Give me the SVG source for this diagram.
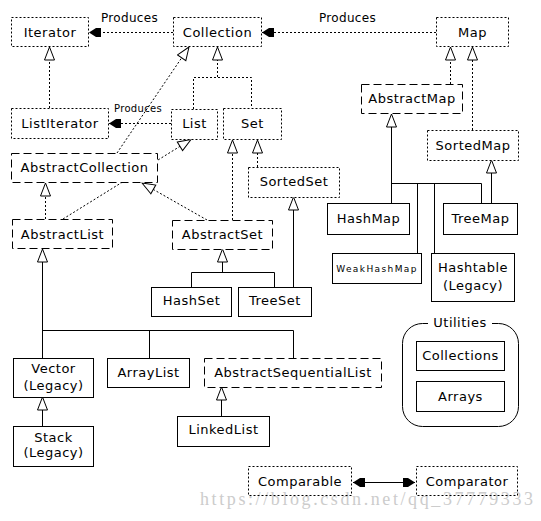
<svg xmlns="http://www.w3.org/2000/svg" width="541" height="521" viewBox="0 0 541 521">
<style>
.bg{fill:#ffffff}
.n rect{fill:#ffffff;stroke:#000;stroke-width:1}
.dot rect{stroke-dasharray:2,2}
.dash rect{stroke-dasharray:8,4}
.t{font-family:"DejaVu Sans",Verdana,sans-serif;font-size:13px;letter-spacing:0.5px;fill:#000;text-anchor:middle}
.lbl{font-family:"DejaVu Sans",Verdana,sans-serif;font-size:12px;letter-spacing:0.3px;fill:#000;text-anchor:middle}
.c{fill:none;stroke:#000;stroke-width:1}
.cd{stroke-dasharray:2,2}
.wm{font-family:"Liberation Serif","Times New Roman",serif;font-size:18px;fill:#cccccc}
</style>
<defs>
<marker id="hollow" markerUnits="userSpaceOnUse" markerWidth="16" markerHeight="13" viewBox="-1 -1 16 13" refX="13" refY="5" orient="auto">
<path d="M0,0 L13,5 L0,10 Z" fill="#fff" stroke="#000" stroke-width="1" stroke-dasharray="none"/>
</marker>
<marker id="filled" markerUnits="userSpaceOnUse" markerWidth="14" markerHeight="11" viewBox="-1 -1 14 11" refX="12" refY="4.5" orient="auto-start-reverse">
<path d="M12,4.5 L5,0 L0,0 L0,9 L5,9 Z" fill="#000" stroke="none"/>
</marker>
</defs>
<rect class="bg" x="0" y="0" width="541" height="521"/>

<text class="wm" x="200" y="505" textLength="333" lengthAdjust="spacing">https://blog.csdn.net/qq_37779333</text>

<g id="connectors">
<line class="c cd" x1="173" y1="32.5" x2="89" y2="32.5" marker-end="url(#filled)"/>
<line class="c cd" x1="436" y1="32.5" x2="262" y2="32.5" marker-end="url(#filled)"/>
<line class="c cd" x1="171" y1="123.5" x2="109" y2="123.5" marker-end="url(#filled)"/>
<text class="lbl" x="129.5" y="22">Produces</text>
<text class="lbl" x="347.5" y="22">Produces</text>
<text class="lbl" x="138" y="112" style="font-size:10px">Produces</text>

<line class="c cd" x1="49.5" y1="108" x2="49.5" y2="47" marker-end="url(#hollow)"/>
<line class="c cd" x1="217.5" y1="77" x2="217.5" y2="47" marker-end="url(#hollow)"/>
<polyline class="c cd" points="193.5,109 193.5,77.5 251.5,77.5 251.5,108"/>
<line class="c cd" x1="117" y1="153" x2="189" y2="47" marker-end="url(#hollow)"/>
<line class="c cd" x1="63" y1="219" x2="191" y2="139.5" marker-end="url(#hollow)"/>
<line class="c cd" x1="45.5" y1="219" x2="45.5" y2="183" marker-end="url(#hollow)"/>
<line class="c cd" x1="207" y1="220" x2="142" y2="183" marker-end="url(#hollow)"/>
<line class="c cd" x1="232.5" y1="220" x2="232.5" y2="140" marker-end="url(#hollow)"/>
<line class="c cd" x1="257.5" y1="167" x2="257.5" y2="140" marker-end="url(#hollow)"/>
<line class="c cd" x1="450.5" y1="84" x2="450.5" y2="47" marker-end="url(#hollow)"/>
<line class="c cd" x1="472.5" y1="130" x2="472.5" y2="47" marker-end="url(#hollow)"/>

<line class="c" x1="391.5" y1="203" x2="391.5" y2="114" marker-end="url(#hollow)"/>
<polyline class="c" points="391.5,183.5 481.5,183.5 481.5,203"/>
<line class="c" x1="417.5" y1="183.5" x2="417.5" y2="253"/>
<line class="c" x1="434.5" y1="183.5" x2="434.5" y2="253"/>
<line class="c" x1="491.5" y1="203" x2="491.5" y2="160" marker-end="url(#hollow)"/>
<line class="c" x1="293.5" y1="287" x2="293.5" y2="197" marker-end="url(#hollow)"/>
<line class="c" x1="222.5" y1="272" x2="222.5" y2="249" marker-end="url(#hollow)"/>
<polyline class="c" points="191.5,287 191.5,272.5 274.5,272.5 274.5,287"/>
<line class="c" x1="42.5" y1="358" x2="42.5" y2="249" marker-end="url(#hollow)"/>
<polyline class="c" points="42.5,330.5 293.5,330.5 293.5,358"/>
<line class="c" x1="149.5" y1="330.5" x2="149.5" y2="358"/>
<line class="c" x1="42.5" y1="426" x2="42.5" y2="397" marker-end="url(#hollow)"/>
<line class="c" x1="221.5" y1="416" x2="221.5" y2="387" marker-end="url(#hollow)"/>
<line class="c" x1="353" y1="482.5" x2="415" y2="482.5" marker-start="url(#filled)" marker-end="url(#filled)"/>
</g>

<g id="Iterator" class="n dot"><rect x="11.5" y="17.5" width="77" height="29"/><text class="t" x="50" y="37">Iterator</text></g>
<g id="Collection" class="n dot"><rect x="173.5" y="17.5" width="88" height="29"/><text class="t" x="217.5" y="37">Collection</text></g>
<g id="Map" class="n dot"><rect x="436.5" y="17.5" width="72" height="29"/><text class="t" x="472.5" y="37">Map</text></g>
<g id="ListIterator" class="n dot"><rect x="11.5" y="108.5" width="97" height="30"/><text class="t" x="60" y="128">ListIterator</text></g>
<g id="List" class="n dot"><rect x="171.5" y="109.5" width="46" height="30"/><text class="t" x="194.5" y="128">List</text></g>
<g id="Set" class="n dot"><rect x="223.5" y="108.5" width="58" height="31"/><text class="t" x="252.5" y="128">Set</text></g>
<g id="AbstractCollection" class="n dash"><rect x="11.5" y="153.5" width="146" height="29"/><text class="t" x="84.5" y="172">AbstractCollection</text></g>
<g id="SortedSet" class="n dot"><rect x="248.5" y="167.5" width="91" height="30"/><text class="t" x="294" y="186">SortedSet</text></g>
<g id="AbstractMap" class="n dash"><rect x="361.5" y="84.5" width="101" height="29"/><text class="t" x="412" y="103">AbstractMap</text></g>
<g id="SortedMap" class="n dot"><rect x="427.5" y="130.5" width="91" height="30"/><text class="t" x="473" y="150">SortedMap</text></g>
<g id="AbstractList" class="n dash"><rect x="12.5" y="219.5" width="100" height="29"/><text class="t" x="62.5" y="239">AbstractList</text></g>
<g id="AbstractSet" class="n dash"><rect x="172.5" y="220.5" width="100" height="29"/><text class="t" x="222.5" y="239">AbstractSet</text></g>
<g id="HashMap" class="n"><rect x="327.5" y="203.5" width="82" height="31"/><text class="t" x="368.5" y="223">HashMap</text></g>
<g id="TreeMap" class="n"><rect x="443.5" y="203.5" width="74" height="31"/><text class="t" x="480.5" y="223">TreeMap</text></g>
<g id="WeakHashMap" class="n"><rect x="332.5" y="253.5" width="89" height="30"/><text class="t" x="377" y="272" style="font-size:9px;letter-spacing:1.4px">WeakHashMap</text></g>
<g id="Hashtable" class="n"><rect x="431.5" y="253.5" width="83" height="48"/><text class="t" x="473" y="272">Hashtable</text><text class="t" x="473" y="290">(Legacy)</text></g>
<g id="HashSet" class="n"><rect x="151.5" y="287.5" width="80" height="29"/><text class="t" x="191.5" y="305">HashSet</text></g>
<g id="TreeSet" class="n"><rect x="238.5" y="287.5" width="73" height="29"/><text class="t" x="275" y="305">TreeSet</text></g>
<g id="Vector" class="n"><rect x="13.5" y="358.5" width="80" height="39"/><text class="t" x="53.5" y="373">Vector</text><text class="t" x="53.5" y="390">(Legacy)</text></g>
<g id="ArrayList" class="n"><rect x="107.5" y="358.5" width="82" height="29"/><text class="t" x="148.5" y="377">ArrayList</text></g>
<g id="AbstractSequentialList" class="n dash"><rect x="204.5" y="358.5" width="177" height="29"/><text class="t" x="293" y="377">AbstractSequentialList</text></g>
<g id="Stack" class="n"><rect x="13.5" y="426.5" width="80" height="40"/><text class="t" x="53.5" y="442">Stack</text><text class="t" x="53.5" y="457">(Legacy)</text></g>
<g id="LinkedList" class="n"><rect x="177.5" y="416.5" width="92" height="30"/><text class="t" x="223.5" y="434">LinkedList</text></g>
<g id="Utilities">
<rect x="402.5" y="323.5" width="116" height="103" rx="20" ry="20" fill="none" stroke="#000" stroke-width="1"/>
<rect x="428" y="315" width="64" height="14" fill="#fff"/>
<text class="t" x="460" y="327">Utilities</text>
</g>
<g id="Collections" class="n"><rect x="416.5" y="341.5" width="88" height="29"/><text class="t" x="460.5" y="360">Collections</text></g>
<g id="Arrays" class="n"><rect x="416.5" y="381.5" width="88" height="30"/><text class="t" x="460.5" y="401">Arrays</text></g>
<g id="Comparable" class="n dot"><rect x="248.5" y="466.5" width="103" height="29" style="fill:none"/><text class="t" x="300" y="486">Comparable</text></g>
<g id="Comparator" class="n dot"><rect x="416.5" y="466.5" width="101" height="29" style="fill:none"/><text class="t" x="467" y="486">Comparator</text></g>
</svg>
